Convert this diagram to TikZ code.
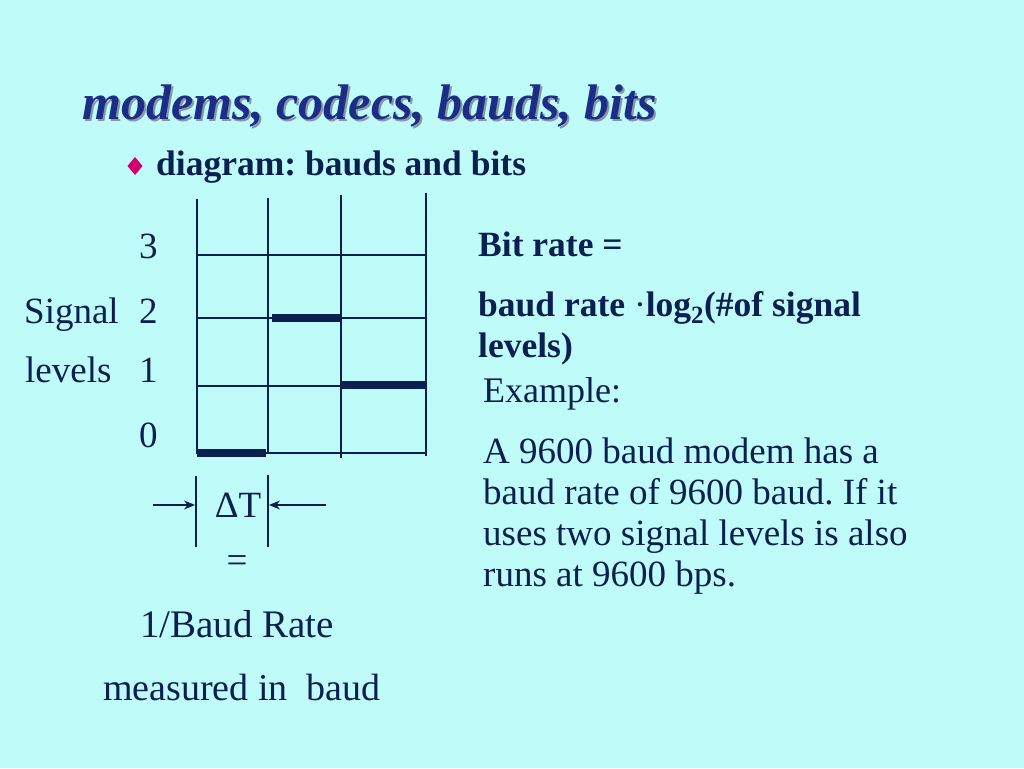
\documentclass[tikz,border=0pt]{standalone}
\usepackage{fontspec}
\setmainfont{Liberation Serif}
\usetikzlibrary{arrows.meta}
\definecolor{slidebg}{HTML}{BFFBF8}
\definecolor{slideink}{HTML}{0B1F50}
\definecolor{slidetitle}{HTML}{1B2D86}
\definecolor{slideshadow}{HTML}{8797A6}
\definecolor{slidebullet}{HTML}{D1006E}
\frenchspacing

\begin{document}
\begin{tikzpicture}[
  x=1pt,
  y=-1pt,
  every node/.style={font=\fontsize{37}{41}\selectfont, text=slideink, inner sep=0pt},
  gridline/.style={slideink, line width=1.5pt},
  levelbar/.style={slideink, line width=8pt},
  textline/.style={anchor=base west},
  boldline/.style={anchor=base west, font=\fontsize{35.5}{41}\selectfont\bfseries},
  dtarrow/.style={slideink, line width=1.2pt, -{Stealth[length=11pt,width=9pt]}}
]
  \fill[slidebg] (0,0) rectangle (1024,768);

  \node[anchor=base west, text=slideshadow, font=\fontsize{50}{60}\selectfont\bfseries\itshape] (titleshadow) at (84,121) {modems, codecs, bauds, bits};
  \node[anchor=base west, text=slidetitle, font=\fontsize{50}{60}\selectfont\bfseries\itshape] (title) at (82,119) {modems, codecs, bauds, bits};
  \fill[slidebullet] (135,157) -- (142.5,166) -- (135,175) -- (127.5,166) -- cycle;
  \node[boldline] (subtitle) at (156,175) {diagram: bauds and bits};

  \draw[gridline] (197,199) -- (197,454);
  \draw[gridline] (268,198) -- (268,454);
  \draw[gridline] (341,195) -- (341,458);
  \draw[gridline] (426,193) -- (426,456);
  \draw[gridline] (197,255) -- (426,255);
  \draw[gridline] (197,318) -- (426,318);
  \draw[gridline] (197,386) -- (426,386);
  \draw[gridline] (197,453) -- (426,453);

  \draw[levelbar] (197,453) -- (266,453);
  \draw[levelbar] (272,318) -- (342,318);
  \draw[levelbar] (342,385) -- (426,385);

  \node[textline] (lvlthree) at (139,258) {3};
  \node[textline] (lvltwo) at (139,323) {2};
  \node[textline] (lvlone) at (139,382) {1};
  \node[textline] (lvlzero) at (139,447) {0};
  \node[textline] (signal) at (24,323) {Signal};
  \node[textline] (levels) at (25,382) {levels};

  \draw[gridline] (196,476) -- (196,547);
  \draw[gridline] (268,475) -- (268,547);
  \coordinate (dtleft) at (153,505);
  \coordinate (dtleftbar) at (195,505);
  \coordinate (dtright) at (326,505);
  \coordinate (dtrightbar) at (269,505);
  \draw[dtarrow] (dtleft) -- (dtleftbar);
  \draw[dtarrow] (dtright) -- (dtrightbar);
  \node (deltat) at (238,505) {ΔT};
  \node (equals) at (237,564) {=};
  \node[anchor=base, font=\fontsize{39}{41}\selectfont] (period) at (237,637) {1/Baud Rate};
  \node[anchor=base, font=\fontsize{38}{41}\selectfont] (unit) at (242,700) {measured in\ \ baud};

  \node[boldline] (bitrate) at (478,256) {Bit rate =};
  \node[boldline] (formula) at (478,316) {baud rate {\mdseries ·}log\textsubscript{2}(\#of signal};
  \node[boldline] (formulaend) at (478,357) {levels)};
  \node[textline, font=\fontsize{36}{41}\selectfont] (example) at (483,402) {Example:};
  \node[textline] (lineone) at (483,463) {A 9600 baud modem has a};
  \node[textline] (linetwo) at (483,504) {baud rate of 9600 baud. If it};
  \node[textline] (linethree) at (483,545) {uses two signal levels is also};
  \node[textline] (linefour) at (483,586) {runs at 9600 bps.};
\end{tikzpicture}
\end{document}
